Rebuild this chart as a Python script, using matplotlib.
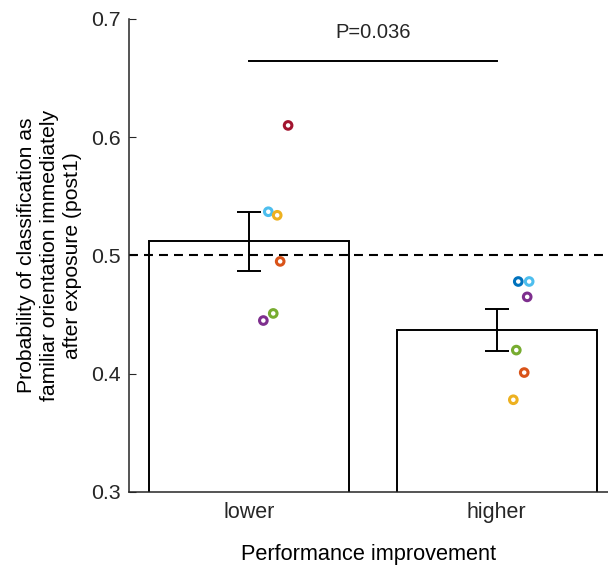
import matplotlib
matplotlib.use("Agg")
import matplotlib.pyplot as plt

plt.rcParams['font.family'] = ['Liberation Sans', 'DejaVu Sans']
plt.rcParams['text.color'] = '#262626'

# data
groups = ['lower', 'higher']
means = [0.512, 0.437]
err_hi = [0.537, 0.455]
err_lo = [0.487, 0.419]

lower_x = [1.157, 1.077, 1.113, 1.125, 1.097, 1.057]
lower_y = [0.610, 0.537, 0.534, 0.495, 0.451, 0.445]
lower_c = ['#A2142F', '#4DBEEE', '#EDB120', '#D95319', '#77AC30', '#7E2F8E']

higher_x = [2.087, 2.131, 2.123, 2.079, 2.111, 2.067]
higher_y = [0.478, 0.478, 0.465, 0.420, 0.401, 0.378]
higher_c = ['#0072BD', '#4DBEEE', '#7E2F8E', '#77AC30', '#D95319', '#EDB120']

p_text = 'P=0.036'
sig_y = 0.6645

fig = plt.figure(figsize=(6.08, 5.67), dpi=100)
ax = fig.add_axes([0.2125, 0.1323, 0.7877, 0.8342])

xpos = [1, 2]
ax.bar(xpos, means, width=0.808, color='white', edgecolor='black', linewidth=1.4, zorder=1)
yerr = [[m - l for m, l in zip(means, err_lo)], [h - m for m, h in zip(means, err_hi)]]
ax.errorbar(xpos, means, yerr=yerr, fmt='none', ecolor='black', elinewidth=1.4,
            capsize=8.6, capthick=1.4, zorder=3)

ax.axhline(0.5, color='black', linestyle=(0, (4.3, 2.9)), linewidth=1.5, zorder=2)

ax.scatter(lower_x, lower_y, s=30, facecolors='white', edgecolors=lower_c, linewidths=2.2, zorder=4)
ax.scatter(higher_x, higher_y, s=30, facecolors='white', edgecolors=higher_c, linewidths=2.2, zorder=4)

# significance bar
ax.plot(xpos, [sig_y, sig_y], color='black', linewidth=1.4, clip_on=False)
ax.text(1.5, 0.689, p_text, ha='center', va='center', fontsize=14.5)

ax.set_xlim(0.515, 2.45)
ax.set_ylim(0.3, 0.7)
ax.set_yticks([0.3, 0.4, 0.5, 0.6, 0.7])
ax.set_yticklabels(['0.3', '0.4', '0.5', '0.6', '0.7'])
ax.set_xticks(xpos)
ax.set_xticklabels(groups)
ax.tick_params(axis='y', direction='in', length=5, labelsize=15.3, pad=6, colors='#262626')
ax.tick_params(axis='x', length=0, labelsize=15.5, pad=7, colors='#262626')
ax.spines['top'].set_visible(False)
ax.spines['right'].set_visible(False)
ax.spines['left'].set_color('#262626')
ax.spines['bottom'].set_color('#262626')
ax.spines['left'].set_linewidth(1.1)
ax.spines['bottom'].set_linewidth(1.1)

ax.set_xlabel('Performance improvement', fontsize=15.7, labelpad=15)
ax.set_ylabel('Probability of classification as\nfamiliar orientation immediately\nafter exposure (post1)',
              fontsize=15.2, labelpad=7, linespacing=1.25, multialignment='center')

fig.savefig('out.png', dpi=100)
